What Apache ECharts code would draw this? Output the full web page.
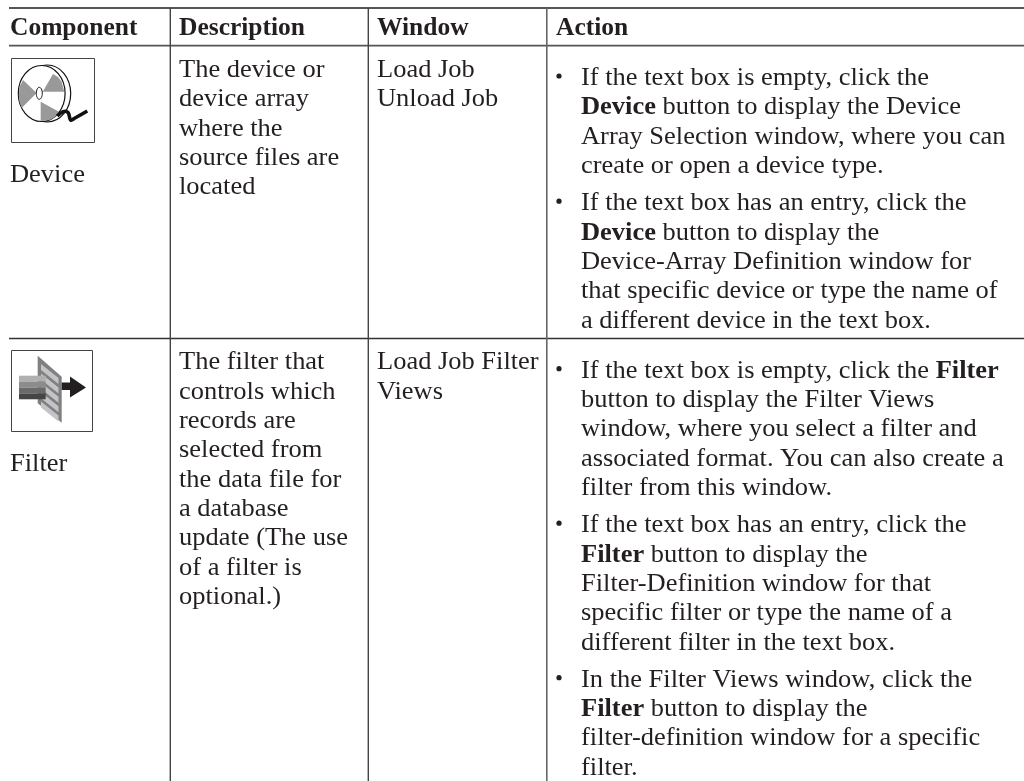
<!DOCTYPE html>
<html><head><meta charset="utf-8">
<style>html,body{margin:0;padding:0;background:#fff}#c{width:1024px;height:781px}</style>
<script src="https://cdn.jsdelivr.net/npm/echarts@6/dist/echarts.min.js"></script>
</head><body><div id="c"></div>
<script>
const headers = ['Component','Description','Window','Action'];
const components = ['Device','Filter'];
const descriptions = [
 ['The device or','device array','where the','source files are','located'],
 ['The filter that','controls which','records are','selected from','the data file for','a database','update (The use','of a filter is','optional.)']
];
const windows = [
 ['Load Job','Unload Job'],
 ['Load Job Filter','Views']
];
const actions = [
 [['If the text box is empty, click the','{b|Device} button to display the Device','Array Selection window, where you can','create or open a device type.'],
  ['If the text box has an entry, click the','{b|Device} button to display the','Device-Array Definition window for','that specific device or type the name of','a different device in the text box.']],
 [['If the text box is empty, click the {b|Filter}','button to display the Filter Views','window, where you select a filter and','associated format. You can also create a','filter from this window.'],
  ['If the text box has an entry, click the','{b|Filter} button to display the','Filter-Definition window for that','specific filter or type the name of a','different filter in the text box.'],
  ['In the Filter Views window, click the','{b|Filter} button to display the','filter-definition window for a specific','filter.']]
];

const FONT='"Liberation Serif"', SIZE=24.5, SX=1.08, SXB=1.04, LH=29.3, INK='#231f20', BASE=16.8;
const g=[];
function text(s,x,base,bold){
  g.push({type:'text',x:x,y:base-BASE,scaleX:bold?SXB:SX,silent:true,style:{text:s,x:0,y:0,fill:INK,font:(bold?'bold ':'')+SIZE+'px '+FONT,
    rich:{b:{fontWeight:'bold',fontFamily:FONT,fontSize:SIZE,fill:INK}}}});
}
function line(x1,y1,x2,y2,c,w){g.push({type:'line',silent:true,shape:{x1,y1,x2,y2},style:{stroke:c,lineWidth:w}});}

const colX=[10,179,377,556], bulletX=559, actX=581;
headers.forEach((h,i)=>text(h,colX[i],32.5,true));

const rowBase=[75,367.3], compBase=[180,469];
components.forEach((c,i)=>text(c,colX[0],compBase[i]));
descriptions.forEach((ls,r)=>ls.forEach((l,k)=>text(l,colX[1],rowBase[r]+k*LH)));
windows.forEach((ls,r)=>ls.forEach((l,k)=>text(l,colX[2],rowBase[r]+k*LH)));
const actBase=[83,375.7], PARAGAP=8;
actions.forEach((ps,r)=>{
  let b=actBase[r];
  ps.forEach(p=>{
    g.push({type:'circle',silent:true,shape:{cx:bulletX,cy:b-7,r:2.6},style:{fill:INK}});
    p.forEach(l=>{text(l,actX,b);b+=LH;});
    b+=PARAGAP;
  });
});

// rules
line(9,8,1024,8,'#555',1.8);
line(9,45.7,1024,45.7,'#555',1.8);
line(9,338.5,1024,338.5,'#333',1.3);
line(170.3,8,170.3,781,'#444',1.4);
line(368.3,8,368.3,781,'#444',1.4);
line(546.8,8,546.8,781,'#666',1.6);

// Device icon
g.push({type:'rect',silent:true,shape:{x:11.5,y:58.5,width:83,height:84},style:{fill:'none',stroke:'#444',lineWidth:1}});
g.push({type:'ellipse',silent:true,shape:{cx:47.3,cy:93.5,rx:23.4,ry:28.5},style:{fill:'#fff',stroke:'#111',lineWidth:1.2}});
g.push({type:'ellipse',silent:true,shape:{cx:41.7,cy:93.5,rx:23.4,ry:28},style:{fill:'#fff',stroke:'#111',lineWidth:1.2}});
[[[36.7,93],[23,80],[19.5,87],[18.8,95],[19.5,102],[21.7,108]],
 [[42.7,91.7],[53,74],[58,77],[61.7,82],[64.3,91.7]],
 [[40.7,101.7],[59,111.7],[55,117],[50,120],[40.7,121]]
].forEach(points=>g.push({type:'polygon',silent:true,shape:{points},style:{fill:'#999'}}));
g.push({type:'ellipse',silent:true,shape:{cx:39.3,cy:93.3,rx:3,ry:6},style:{fill:'#fff',stroke:'#111',lineWidth:1}});
g.push({type:'polyline',silent:true,shape:{points:[[57.3,116],[63,111.7],[68,112.5],[70.7,120],[75,118],[87.3,111]],smooth:0.4},style:{fill:'none',stroke:'#111',lineWidth:3.6}});

// Filter icon
g.push({type:'rect',silent:true,shape:{x:11.5,y:350.5,width:81,height:81},style:{fill:'none',stroke:'#444',lineWidth:1}});
g.push({type:'polygon',silent:true,shape:{points:[[37.7,355.7],[61.7,376.7],[61.7,422.7],[37.7,403.3]]},style:{fill:'#808080'}});
[0,1,2,3,4].forEach(i=>g.push({type:'polygon',silent:true,shape:{points:[[41,364+i*9.4],[58.5,378+i*9.4],[58.5,384+i*9.4],[41,370+i*9.4]]},style:{fill:'#c4c4c8'}}));
['#b0b0b0','#8c8c8c','#6a6a6a','#454545'].forEach((c,i)=>g.push({type:'rect',silent:true,shape:{x:19,y:375.7+i*5.9,width:26.7,height:5.9},style:{fill:c}}));
g.push({type:'polygon',silent:true,shape:{points:[[61.7,382.5],[70,382.5],[70,376.5],[86,387.5],[70,397.5],[70,390],[61.7,390]]},style:{fill:'#231f20'}});

const chart=echarts.init(document.getElementById('c'),null,{renderer:'canvas'});
chart.setOption({animation:false,backgroundColor:'#fff',graphic:{elements:g}});
</script></body></html>
